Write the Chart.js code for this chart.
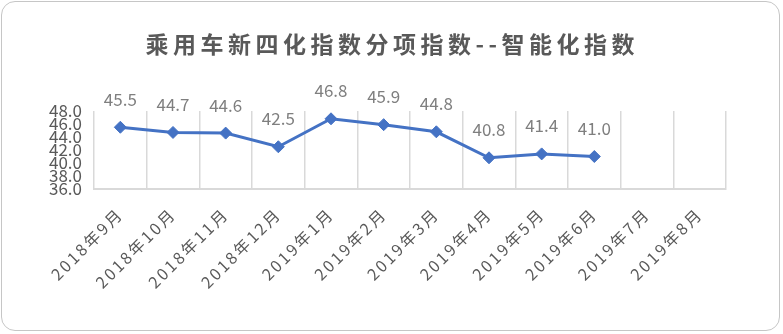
<!DOCTYPE html>
<html>
<head>
<meta charset="utf-8">
<script src="https://cdn.jsdelivr.net/npm/chart.js@4.4.1/dist/chart.umd.min.js"></script>
<style>
  html, body { margin: 0; padding: 0; background: #fff; }
  #wrap { position: relative; width: 783px; height: 334px; }
  #frame { position: absolute; left: 1px; top: 1px; width: 777px; height: 328px;
           border: 1px solid #c6c6c6; border-radius: 14px; }
  #chart { position: absolute; left: 0; top: 0; }
</style>
</head>
<body>
<div id="wrap">
  <div id="frame"></div>
  <canvas id="chart" width="783" height="334"></canvas>
</div>
<script>
const chartTitle = "乘用车新四化指数分项指数--智能化指数";
const months = ["2018年9月", "2018年10月", "2018年11月", "2018年12月", "2019年1月", "2019年2月",
  "2019年3月", "2019年4月", "2019年5月", "2019年6月", "2019年7月", "2019年8月"];
const smartIndex = [45.5, 44.7, 44.6, 42.5, 46.8, 45.9, 44.8, 40.8, 41.4, 41.0, null, null];
const yMin = 36;
const yMax = 48;
const yStep = 2;

const CJK = '"Noto Sans CJK SC", "Noto Sans", sans-serif';

// title + value labels, drawn by hand so letter spacing can be set
const extras = {
  id: "extras",
  beforeDraw(chart) {
    // x labels are spaced out a bit in the original
    const xs = chart.scales.x;
    if (!xs._spaced) {
      const orig = xs.drawLabels;
      xs.drawLabels = function (area) {
        const c = this.ctx;
        c.save();
        c.letterSpacing = "2.5px";
        orig.call(this, area);
        c.restore();
      };
      xs._spaced = true;
    }
    const ctx = chart.ctx;
    ctx.save();
    ctx.font = "bold 23px " + CJK;
    ctx.letterSpacing = "4.5px";
    ctx.fillStyle = "#595959";
    ctx.textAlign = "center";
    ctx.textBaseline = "middle";
    ctx.fillText(chartTitle, 390 + 2.25, 44);
    ctx.restore();
  },
  afterDatasetsDraw(chart) {
    const ctx = chart.ctx;
    const meta = chart.getDatasetMeta(0);
    ctx.save();
    ctx.font = "17px " + CJK;
    ctx.fillStyle = "#7f7f7f";
    ctx.textAlign = "center";
    ctx.textBaseline = "middle";
    meta.data.forEach((pt, i) => {
      const v = smartIndex[i];
      if (v == null) return;
      ctx.fillText(v.toFixed(1), pt.x, pt.y - 28);
    });
    ctx.restore();
  }
};

new Chart(document.getElementById("chart"), {
  type: "line",
  data: {
    labels: months,
    datasets: [{
      data: smartIndex,
      borderColor: "#4472C4",
      backgroundColor: "#4472C4",
      borderWidth: 3,
      pointStyle: "rectRot",
      pointRadius: 6,
      pointBorderWidth: 1,
      tension: 0
    }]
  },
  options: {
    responsive: false,
    animation: false,
    layout: { padding: { top: 111, right: 57, bottom: 0, left: 0 } },
    plugins: {
      legend: { display: false },
      tooltip: { enabled: false }
    },
    scales: {
      x: {
        offset: true,
        grid: { display: true, offset: true, color: "#d9d9d9", lineWidth: 1.5, drawTicks: false },
        border: { display: true, color: "#d9d9d9", width: 2 },
        ticks: {
          color: "#595959",
          font: { family: CJK, size: 16 },
          minRotation: 45,
          maxRotation: 45,
          autoSkip: false,
          padding: 15
        },
        afterFit(scale) { scale.height = 145; }
      },
      y: {
        min: yMin,
        max: yMax,
        grid: { display: false, drawTicks: false },
        border: { display: false },
        ticks: {
          stepSize: yStep,
          autoSkip: false,
          color: "#595959",
          font: { family: CJK, size: 17 },
          padding: 12,
          callback: v => v.toFixed(1)
        },
        afterFit(scale) { scale.width = 94; }
      }
    }
  },
  plugins: [extras]
});
</script>
</body>
</html>
